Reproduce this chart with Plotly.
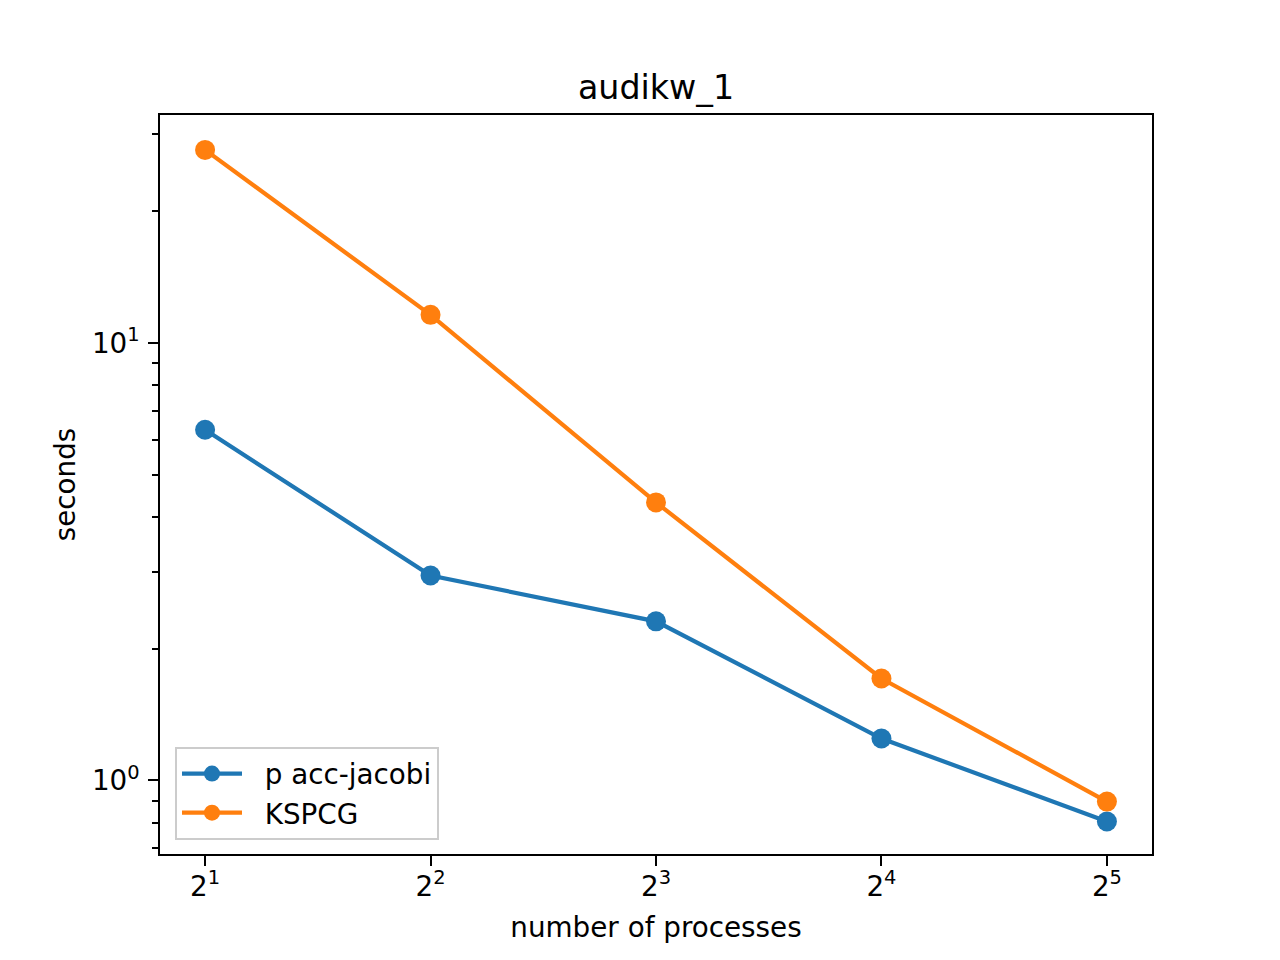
import plotly.graph_objects as go

processes = [2, 4, 8, 16, 32]
jacobi = [6.33, 2.94, 2.31, 1.247, 0.806]
kspcg = [27.6, 11.59, 4.32, 1.71, 0.895]
x_ticktext = ["2<sup>1</sup>", "2<sup>2</sup>", "2<sup>3</sup>", "2<sup>4</sup>", "2<sup>5</sup>"]
y_tickvals = [1, 10]
y_ticktext = ["10<sup>0</sup>", "10<sup>1</sup>"]
y_minor = [0.7, 0.8, 0.9, 2, 3, 4, 5, 6, 7, 8, 9, 20, 30]
series_names = ["p acc-jacobi", "KSPCG"]

FONT = "DejaVu Sans"
PAD = "\u00a0\u00a0"
fig = go.Figure()
fig.add_trace(go.Scatter(x=processes, y=jacobi, mode="lines+markers", name=PAD + series_names[0],
                         line=dict(color="#1f77b4", width=4.2),
                         marker=dict(color="#1f77b4", size=20)))
fig.add_trace(go.Scatter(x=processes, y=kspcg, mode="lines+markers", name=PAD + series_names[1],
                         line=dict(color="#ff7f0e", width=4.2),
                         marker=dict(color="#ff7f0e", size=20)))

axis_common = dict(showgrid=False, zeroline=False, showline=True, linecolor="black",
                   linewidth=2.2, mirror=True, ticks="outside", ticklen=9.7, tickwidth=2.2,
                   tickcolor="black", tickfont=dict(family=FONT, size=27.8, color="black"))

fig.update_xaxes(type="log", range=[0.8 * 0.30103, 5.2 * 0.30103],
                 tickmode="array", tickvals=processes, ticktext=x_ticktext,
                 title=dict(text="number of processes", font=dict(family=FONT, size=27.8, color="black"), standoff=15),
                 ticklabelstandoff=-3,
                 **axis_common)
fig.update_yaxes(type="log", range=[-0.168, 1.5207],
                 tickmode="array", tickvals=y_tickvals, ticktext=y_ticktext,
                 minor=dict(tickvals=y_minor, ticks="outside", ticklen=5.6, tickwidth=1.7, tickcolor="black", showgrid=False),
                 title=dict(text="seconds", font=dict(family=FONT, size=27.8, color="black"), standoff=8),
                 ticklabelstandoff=3,
                 **axis_common)

fig.update_layout(
    width=1280, height=960,
    margin=dict(l=152, r=136, t=107, b=114),
    plot_bgcolor="white", paper_bgcolor="white",
    title=dict(text="audikw_1", x=(152 + 1144) / 2 / 1280, xanchor="center",
               y=1 - 79 / 960, yanchor="middle",
               font=dict(family=FONT, size=33.3, color="black")),
    legend=dict(x=15 / 992, y=14 / 739, xanchor="left", yanchor="bottom",
                bordercolor="#cccccc", borderwidth=2, bgcolor="rgba(255,255,255,0.8)",
                font=dict(family=FONT, size=27.8, color="black"), itemwidth=60),
    showlegend=True,
)

fig.write_html("out.html")
